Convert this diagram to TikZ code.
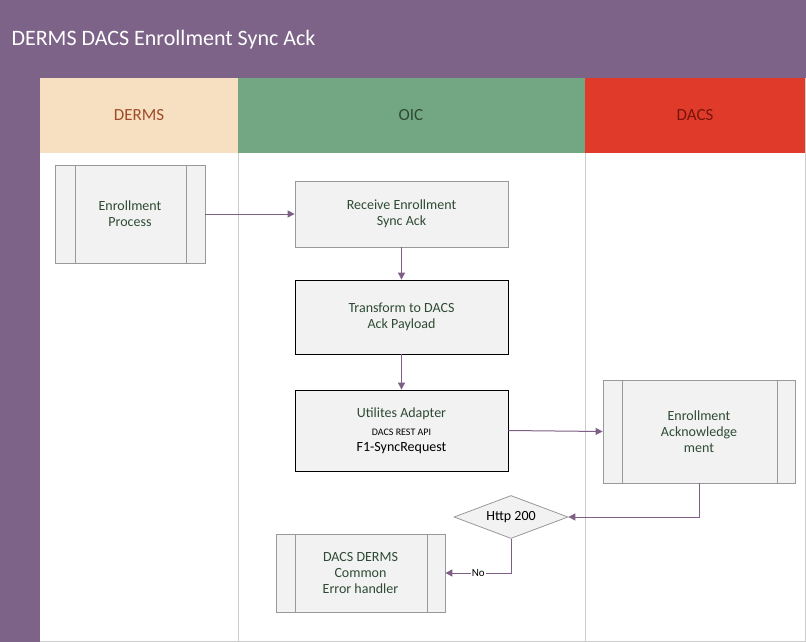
\documentclass[tikz,border=0pt]{standalone}
\usepackage{fontspec}
\setmainfont{Carlito}
\usetikzlibrary{shapes.geometric,arrows.meta}
\definecolor{purp}{HTML}{7D6388}
\definecolor{peach}{HTML}{F7DFC1}
\definecolor{grn}{HTML}{73A784}
\definecolor{rd}{HTML}{E03B2A}
\definecolor{txt}{HTML}{2E4A34}
\definecolor{bx}{HTML}{F2F2F2}
\definecolor{ln}{HTML}{7E5F86}
\begin{document}
\begin{tikzpicture}[x=1pt,y=-1pt,
  box/.style={draw=gray!80,fill=bx,text=txt,font=\fontsize{14}{16}\selectfont,align=center,inner sep=0,line width=0.8pt},
  bbox/.style={box,draw=black},
  arr/.style={draw=ln,line width=1pt,-{Triangle[length=7pt,width=7pt]}},
  hdr/.style={font=\fontsize{17}{20}\selectfont}]
\useasboundingbox (0,0) rectangle (806,642);
\fill[white] (0,0) rectangle (806,642);
\fill[purp] (0,0) rectangle (806,78);
\fill[purp] (0,78) rectangle (40,642);
\fill[peach] (40,78) rectangle (238,153);
\fill[grn] (238,78) rectangle (585,153);
\fill[rd] (585,78) rectangle (806,153);
\draw[gray!40] (238,153) -- (238,642) (585,153) -- (585,642) (805.5,78) -- (805.5,642) (40,641.5) -- (806,641.5);
\node[anchor=west,text=white,font=\fontsize{22}{26}\selectfont] (title) at (8,40) {DERMS DACS Enrollment Sync Ack};
\node[hdr,text={rgb,255:red,160;green,75;blue,40}] (h1) at (139,115) {DERMS};
\node[hdr,text=txt] (h2) at (411,115) {OIC};
\node[hdr,text={rgb,255:red,120;green,20;blue,10}] (h3) at (695,115) {DACS};
% nodes
\node[box,minimum width=150,minimum height=98] (ep) at (130,214) {Enrollment\\Process};
\draw[gray!80,line width=0.8pt] (75,165) -- (75,263) (186,165) -- (186,263);
\node[box,minimum width=213,minimum height=66] (rx) at (401.5,214) {Receive Enrollment\\Sync Ack};
\node[bbox,minimum width=213,minimum height=74] (tr) at (401.5,317) {Transform to DACS\\Ack Payload};
\node[bbox,minimum width=213,minimum height=81] (ua) at (401.5,430.5) {Utilites Adapter\\[2pt]{\fontsize{10}{12}\selectfont\color{black}DACS REST API}\\{\color{black}F1-SyncRequest}};
\node[box,minimum width=192,minimum height=103] (ack) at (699,431.5) {Enrollment\\Acknowledge\\ment};
\draw[gray!80,line width=0.8pt] (622,380) -- (622,483) (777,380) -- (777,483);
\node[diamond,draw=gray!80,fill=bx,line width=0.8pt,minimum width=114,minimum height=43,inner sep=0,font=\fontsize{14}{16}\selectfont,aspect=2.6] (d) at (511,517) {Http 200};
\node[box,minimum width=169,minimum height=78] (err) at (360.5,573) {DACS DERMS\\Common\\Error handler};
\draw[gray!80,line width=0.8pt] (295,534) -- (295,612) (427,534) -- (427,612);
% connectors
\draw[arr] (ep.east) -- (rx.west);
\draw[arr] (rx.south) -- (tr.north);
\draw[arr] (tr.south) -- (ua.north);
\draw[arr] (ua.east) -- (ack.west);
\draw[arr] (ack.south) |- (d.east);
\draw[arr] (d.south) |- node[pos=0.75,fill=white,inner sep=1pt,font=\fontsize{11}{13}\selectfont] {No} (err.east);
\end{tikzpicture}
\end{document}
